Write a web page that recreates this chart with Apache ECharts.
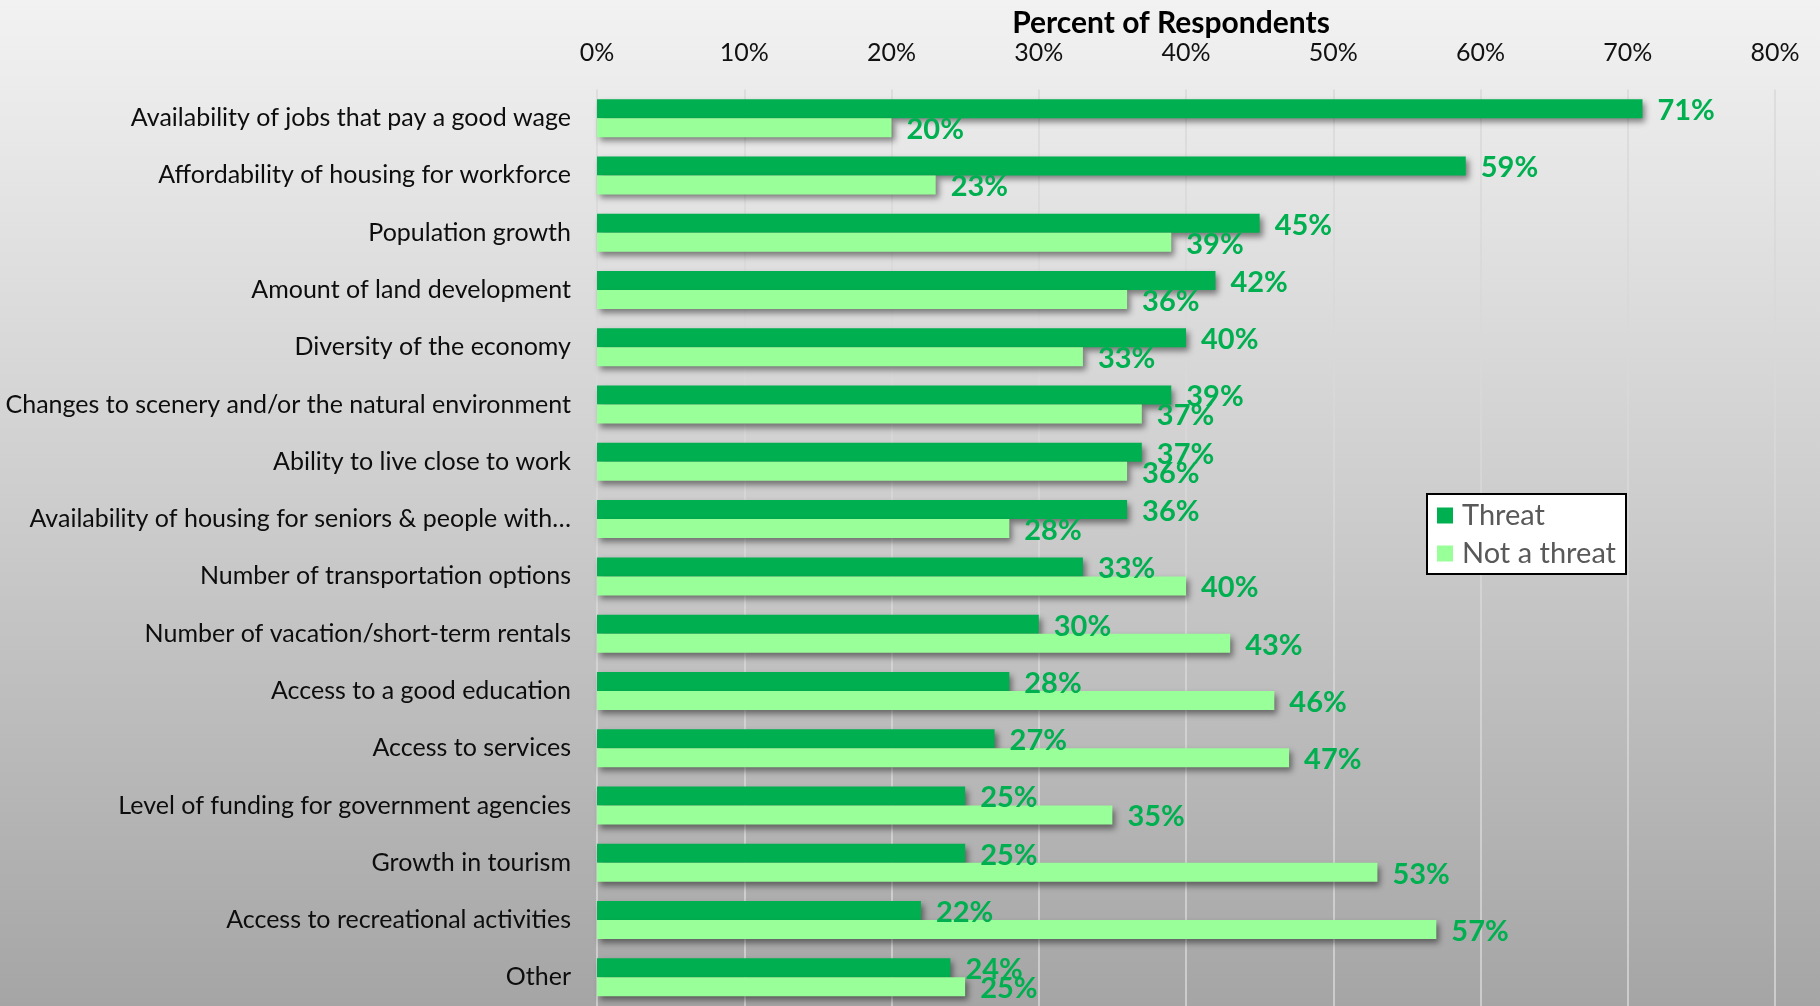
<!DOCTYPE html>
<html>
<head>
<meta charset="utf-8">
<script src="https://cdn.jsdelivr.net/npm/echarts@6/dist/echarts.min.js"></script>
<style>
html,body{margin:0;padding:0;}
#chart{width:1820px;height:1006px;}
</style>
</head>
<body>
<div id="chart"></div>
<script>
const categories = [
  "Availability of jobs that pay a good wage",
  "Affordability of housing for workforce",
  "Population growth",
  "Amount of land development",
  "Diversity of the economy",
  "Changes to scenery and/or the natural environment",
  "Ability to live close to work",
  "Availability of housing for seniors & people with…",
  "Number of transportation options",
  "Number of vacation/short-term rentals",
  "Access to a good education",
  "Access to services",
  "Level of funding for government agencies",
  "Growth in tourism",
  "Access to recreational activities",
  "Other"
];
const threat    = [71, 59, 45, 42, 40, 39, 37, 36, 33, 30, 28, 27, 25, 25, 22, 24];
const notThreat = [20, 23, 39, 36, 33, 37, 36, 28, 40, 43, 46, 47, 35, 53, 57, 25];
const seriesNames = ["Threat", "Not a threat"];
const axisTitle = "Percent of Respondents";

const FONT = "Lato";
const chart = echarts.init(document.getElementById('chart'), null, {renderer: 'canvas'});

const barShadow = {
  shadowColor: 'rgba(0,0,0,0.45)',
  shadowBlur: 6,
  shadowOffsetX: 3,
  shadowOffsetY: 4
};
const labelStyle = {
  show: true,
  position: 'right',
  distance: 15,
  offset: [0, 2],
  color: '#00B050',
  fontFamily: FONT,
  fontWeight: 'bold',
  fontSize: 29,
  formatter: p => p.value + '%'
};

chart.setOption({
  backgroundColor: {
    type: 'linear', x: 0, y: 0, x2: 0, y2: 1,
    colorStops: [
      {offset: 0, color: '#f2f2f2'},
      {offset: 0.5, color: '#cdcdcd'},
      {offset: 1, color: '#a5a5a5'}
    ]
  },
  animation: false,
  title: {
    text: axisTitle,
    left: 1166,
    textAlign: 'center',
    top: 3,
    textStyle: {fontFamily: FONT, fontWeight: 'bold', fontSize: 30, color: '#000'}
  },
  legend: {
    orient: 'vertical',
    left: 1427,
    top: 494,
    backgroundColor: '#fff',
    borderColor: '#000',
    borderWidth: 2,
    borderRadius: 0,
    padding: [7, 10, 6, 10],
    itemWidth: 16,
    itemHeight: 16,
    itemGap: 9,
    icon: 'rect',
    textStyle: {fontFamily: FONT, fontSize: 29, color: '#595959', padding: [0, 0, 0, 4]},
    data: seriesNames
  },
  grid: {left: 597, right: 45, top: 89.5, bottom: -3, containLabel: false},
  xAxis: {
    type: 'value',
    position: 'top',
    min: 0, max: 80, interval: 10,
    axisLine: {show: false},
    axisTick: {show: false},
    axisLabel: {
      formatter: v => v + '%',
      fontFamily: FONT, fontSize: 25, color: '#111', margin: 24
    },
    splitLine: {show: true, lineStyle: {color: '#d9d9d9', width: 1.5}}
  },
  yAxis: {
    type: 'category',
    inverse: true,
    data: categories,
    axisLine: {show: false},
    axisTick: {show: false},
    axisLabel: {fontFamily: FONT, fontSize: 25, color: '#0d0d0d', margin: 26}
  },
  series: [
    {
      name: seriesNames[0], type: 'bar', data: threat,
      barWidth: 19, barGap: '0%',
      itemStyle: Object.assign({color: '#00B050'}, barShadow),
      label: labelStyle
    },
    {
      name: seriesNames[1], type: 'bar', data: notThreat,
      barWidth: 19, barGap: '0%',
      itemStyle: Object.assign({color: '#99FF99'}, barShadow),
      label: labelStyle
    }
  ]
});
</script>
</body>
</html>
